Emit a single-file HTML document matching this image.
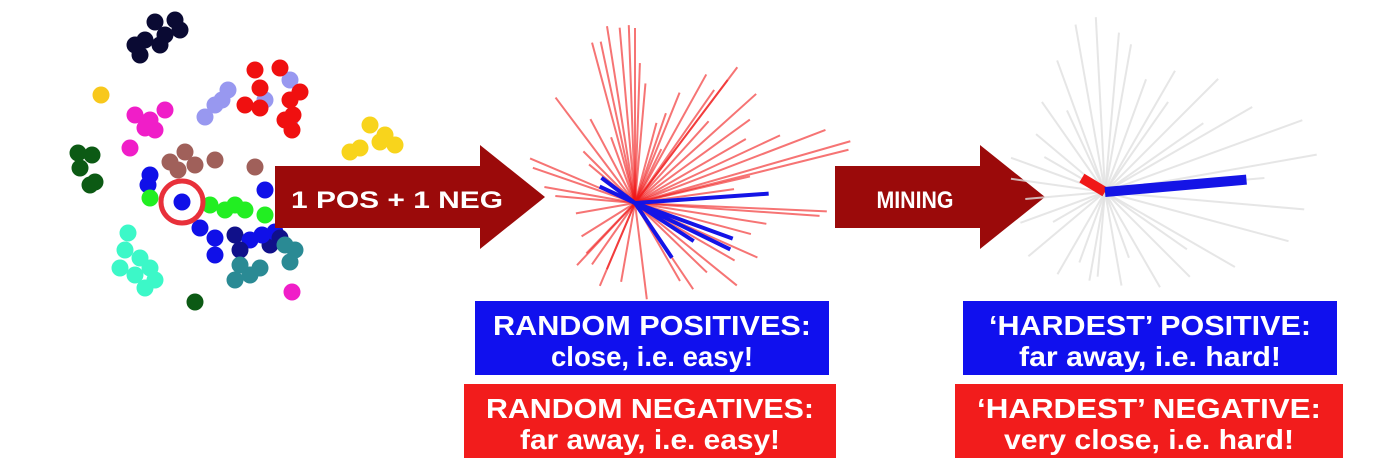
<!DOCTYPE html>
<html><head><meta charset="utf-8"><style>
html,body{margin:0;padding:0;background:#fff;}
svg{display:block;font-family:"Liberation Sans",sans-serif;}
</style></head><body>
<svg id="fig" width="1400" height="460" viewBox="0 0 1400 460" xmlns="http://www.w3.org/2000/svg">
<g id="dots"></g>
<circle cx="182" cy="202" r="21" fill="none" stroke="#e8303a" stroke-width="5"/>
<g>
<path d="M275,166 L480,166 L480,145 L545,197 L480,249 L480,228 L275,228 Z" fill="#9b0a0a"/>
<text x="397" y="208" fill="#fff" font-weight="bold" font-size="24" text-anchor="middle" textLength="212" lengthAdjust="spacingAndGlyphs">1 POS + 1 NEG</text>
</g>
<g>
<path d="M835,166 L980,166 L980,145 L1045,197 L980,249 L980,228 L835,228 Z" fill="#9b0a0a"/>
<text x="915" y="208" fill="#fff" font-weight="bold" font-size="24" text-anchor="middle" textLength="77" lengthAdjust="spacingAndGlyphs">MINING</text>
</g>
<g id="rays"></g>
<g id="grays"></g>
<g>
<rect x="475" y="301" width="354" height="74" fill="#1010ee"/>
<text x="652" y="335" fill="#fff" font-weight="bold" font-size="28" text-anchor="middle" textLength="318" lengthAdjust="spacingAndGlyphs">RANDOM POSITIVES:</text>
<text x="652" y="366" fill="#fff" font-weight="bold" font-size="28" text-anchor="middle" textLength="202" lengthAdjust="spacingAndGlyphs">close, i.e. easy!</text>
</g>
<g>
<rect x="464" y="384" width="372" height="74" fill="#f21c1c"/>
<text x="650" y="418" fill="#fff" font-weight="bold" font-size="28" text-anchor="middle" textLength="328" lengthAdjust="spacingAndGlyphs">RANDOM NEGATIVES:</text>
<text x="650" y="449" fill="#fff" font-weight="bold" font-size="28" text-anchor="middle" textLength="260" lengthAdjust="spacingAndGlyphs">far away, i.e. easy!</text>
</g>
<g>
<rect x="963" y="301" width="374" height="74" fill="#1010ee"/>
<text x="1150" y="335" fill="#fff" font-weight="bold" font-size="28" text-anchor="middle" textLength="322" lengthAdjust="spacingAndGlyphs">‘HARDEST’ POSITIVE:</text>
<text x="1150" y="366" fill="#fff" font-weight="bold" font-size="28" text-anchor="middle" textLength="262" lengthAdjust="spacingAndGlyphs">far away, i.e. hard!</text>
</g>
<g>
<rect x="955" y="384" width="388" height="74" fill="#f21c1c"/>
<text x="1149" y="418" fill="#fff" font-weight="bold" font-size="28" text-anchor="middle" textLength="344" lengthAdjust="spacingAndGlyphs">‘HARDEST’ NEGATIVE:</text>
<text x="1149" y="449" fill="#fff" font-weight="bold" font-size="28" text-anchor="middle" textLength="290" lengthAdjust="spacingAndGlyphs">very close, i.e. hard!</text>
</g>
</svg>
<script>
const dotX=[155,175,165,145,180,140,160,135, 101, 135,150,165,155,145,130, 228,215,205,222,290,265,290, 255,280,260,300,290,245,260,293,292,285, 78,92,80,95,90, 170,185,195,215,255,178, 150,148,265, 150,210,225,245,265,235, 182, 200,215,235,250,270,215,240,262,275,280, 240,250,235,260,295,290,285, 128,125,140,120,135,150,155,145, 195,292, 370,385,395,360,350,380];
const dotY=[22,20,35,40,30,55,45,45, 95, 115,120,110,130,128,148, 90,105,117,100,80,100,120, 70,68,88,92,100,105,108,115,130,120, 153,155,168,182,185, 162,152,165,160,167,170, 175,185,190, 198,205,210,210,215,205, 202, 228,238,235,240,245,255,250,235,232,238, 265,275,280,268,250,262,245, 233,250,258,268,275,268,280,288, 302,292, 125,135,145,148,152,142];
const dotC=["#0a0a33","#0a0a33","#0a0a33","#0a0a33","#0a0a33","#0a0a33","#0a0a33","#0a0a33","#f8c81c","#f01ec8","#f01ec8","#f01ec8","#f01ec8","#f01ec8","#f01ec8","#9898f0","#9898f0","#9898f0","#9898f0","#9898f0","#9898f0","#9898f0","#f01010","#f01010","#f01010","#f01010","#f01010","#f01010","#f01010","#f01010","#f01010","#f01010","#0c5a14","#0c5a14","#0c5a14","#0c5a14","#0c5a14","#a0605a","#a0605a","#a0605a","#a0605a","#a0605a","#a0605a","#1010e8","#1010e8","#1010e8","#22ee22","#22ee22","#22ee22","#22ee22","#22ee22","#22ee22","#1010e8","#1010e8","#1010e8","#10108a","#1010e8","#10108a","#1010e8","#10108a","#1010e8","#1010e8","#10108a","#2a8a94","#2a8a94","#2a8a94","#2a8a94","#2a8a94","#2a8a94","#2a8a94","#3cf8c8","#3cf8c8","#3cf8c8","#3cf8c8","#3cf8c8","#3cf8c8","#3cf8c8","#3cf8c8","#0c5a14","#f01ec8","#f8d41c","#f8d41c","#f8d41c","#f8d41c","#f8d41c","#f8d41c"];
const redAng=[-99,-92,-90,-95,-105,-102,-127,-118,-135,-157,-161,-170,-61,-53,-42,-36,-21,-16,-14,2.5,4,9,24,39,56,83,113,133,148,-68,-75,-71,-53,-55,-30,-13,113,134,44,-85,-110,-140,-175,170,-48,-25,15,30,60,100,125,-8,-64,-88];
const redLen=[179,178,175,176,166,165,132,95,73,114,108,92,147,170,163,142,204,224,220,192,185,133,134,131,104,97,90,85,63,119,83,95,154,138,128,118,72,70,100,120,70,60,80,60,110,160,120,115,90,80,75,100,60,140];
const blueAng=[-4,20,26,56,33,-143,-155];
const blueLen=[134,104,106,66,70,42,39];
const grayAng=[-100,-93,-80,-110,-125,-140,-160,-172,175,160,140,120,100,95,80,60,45,30,15,5,-10,-20,-30,-45,-60,-70,-85,-115,-150,150,110,70,35,-5,-35,-55];
const grayLen=[170,175,150,140,110,90,100,95,80,90,100,95,90,85,95,110,120,150,190,200,215,210,170,160,140,120,160,90,70,60,75,70,100,160,120,110];
const posAng=-5, posLen=142, negAng=-149, negLen=27;
const NS="http://www.w3.org/2000/svg";
const rx=635, ry=203, gx=1105, gy=192;
function px(cx,a,l){return cx+Math.cos(a*Math.PI/180)*l;}
function py(cy,a,l){return cy+Math.sin(a*Math.PI/180)*l;}
function line(g,cx,cy,a,l,col,w,op){const e=document.createElementNS(NS,'line');e.setAttribute('x1',cx);e.setAttribute('y1',cy);e.setAttribute('x2',px(cx,a,l));e.setAttribute('y2',py(cy,a,l));e.setAttribute('stroke',col);e.setAttribute('stroke-width',w);e.setAttribute('stroke-opacity',op);g.appendChild(e);return e;}
const dg=document.getElementById('dots');
for(let i=0;i<dotX.length;i++){const c=document.createElementNS(NS,'circle');c.setAttribute('cx',dotX[i]);c.setAttribute('cy',dotY[i]);c.setAttribute('r',8.5);c.setAttribute('fill',dotC[i]);


dg.appendChild(c);}
const rg=document.getElementById('rays');
for(let i=0;i<redAng.length;i++){const e=line(rg,rx,ry,redAng[i],redLen[i],'#f01818',2,0.6);

}
for(let i=0;i<blueAng.length;i++){const e=line(rg,rx,ry,blueAng[i],blueLen[i],'#1414e6',4,1);

}
const gg=document.getElementById('grays');
for(let i=0;i<grayAng.length;i++){const e=line(gg,gx,gy,grayAng[i],grayLen[i],'#e0e0e0',2,0.8);

}
const hn=line(gg,gx,gy,negAng,negLen,'#f01818',10,1);


const hp=line(gg,gx,gy,posAng,posLen,'#1414e6',10,1);


</script>
</body></html>
